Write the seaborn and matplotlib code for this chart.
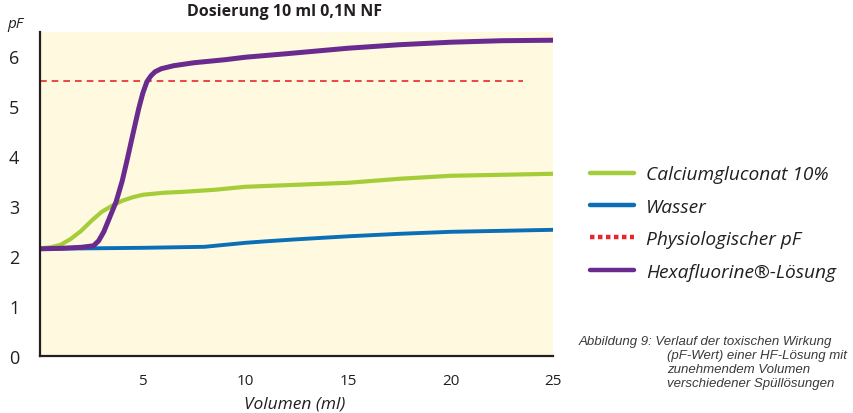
import matplotlib
matplotlib.use('Agg')
import matplotlib.pyplot as plt
import pandas as pd
import seaborn as sns
from matplotlib.lines import Line2D

# Values
volume_calcium = [0, 0.5, 1, 1.5, 2, 2.5, 3, 3.5, 4, 4.5, 5, 6, 7, 8.5, 10, 12.5, 15, 17.5, 20, 22.5, 25]
ph_calcium = [2.15, 2.17, 2.22, 2.34, 2.5, 2.7, 2.88, 3.0, 3.1, 3.17, 3.22, 3.26, 3.28, 3.32, 3.38,
              3.42, 3.46, 3.54, 3.6, 3.62, 3.64]

volume_water = [0, 5, 8, 9, 10, 11, 12.5, 15, 17.5, 20, 22.5, 25]
ph_water = [2.14, 2.16, 2.18, 2.22, 2.26, 2.29, 2.33, 2.39, 2.44, 2.48, 2.5, 2.52]

volume_hexa = [0, 1, 2, 2.6, 2.85, 3.1, 3.4, 3.7, 4.0, 4.25, 4.5, 4.8, 5.0, 5.2, 5.4, 5.6, 5.9,
               6.2, 6.5, 7.5, 9, 10, 12, 15, 17.5, 20, 22.5, 25]
ph_hexa = [2.14, 2.15, 2.17, 2.2, 2.3, 2.48, 2.78, 3.08, 3.5, 3.94, 4.4, 4.94, 5.25, 5.48, 5.6,
           5.68, 5.74, 5.77, 5.8, 5.86, 5.92, 5.97, 6.04, 6.15, 6.22, 6.27, 6.3, 6.31]

physio_x = [0, 23.5]
physio_pf = [5.5, 5.5]

x_ticks = [5, 10, 15, 20, 25]
y_ticks = [0, 1, 2, 3, 4, 5, 6]

labels = ['Calciumgluconat 10%', 'Wasser', 'Physiologischer pF', 'Hexafluorine®-Lösung']
colors = ['#A5CD39', '#0A6FB7', '#E9262B', '#6A2B8F']

df = pd.concat([
    pd.DataFrame({'vol': volume_calcium, 'pf': ph_calcium, 'serie': labels[0]}),
    pd.DataFrame({'vol': volume_water, 'pf': ph_water, 'serie': labels[1]}),
    pd.DataFrame({'vol': volume_hexa, 'pf': ph_hexa, 'serie': labels[3]}),
])

sns.set_style('white')
plt.rcParams['font.family'] = ['Open Sans', 'DejaVu Sans']

fig = plt.figure(figsize=(8.54, 4.14), dpi=100)
ax = fig.add_axes([0.047, 0.138, 0.601, 0.783])
ax.set_facecolor('#FFFADF')

widths = {labels[0]: 3.0, labels[1]: 2.8, labels[3]: 3.6}
for name in [labels[1], labels[0], labels[3]]:
    sub = df[df['serie'] == name]
    sns.lineplot(data=sub, x='vol', y='pf', ax=ax, color=colors[labels.index(name)],
                 lw=widths[name], solid_capstyle='round', solid_joinstyle='round',
                 legend=False, sort=False)

ax.plot(physio_x, physio_pf, color=colors[2], lw=1.2, linestyle=(0, (4, 3)), zorder=1)

ax.set_xlim(0, 25)
ax.set_ylim(0, 6.48)
ax.set_xticks(x_ticks)
ax.set_yticks(y_ticks)
ax.set_xlabel('')
ax.set_ylabel('')

for side in ['top', 'right']:
    ax.spines[side].set_visible(False)
for side in ['left', 'bottom']:
    ax.spines[side].set_color('#231F20')
    ax.spines[side].set_linewidth(1.6)

ax.tick_params(axis='y', direction='inout', length=12, width=1.2, color='#231F20',
               labelsize=13, pad=9, labelcolor='#231F20')
ax.tick_params(axis='x', direction='in', length=8, width=1.4, color='#231F20',
               labelsize=11, pad=12, labelcolor='#231F20')

fig.text(0.333, 0.971, 'Dosierung 10 ml 0,1N NF', ha='center', va='center',
         fontsize=11.5, fontweight='bold', color='#231F20')
fig.text(0.009, 0.94, 'pF', ha='left', va='center', fontsize=11,
         style='italic', color='#231F20')
fig.text(0.345, 0.022, 'Volumen (ml)', ha='center', va='center', fontsize=12.5,
         style='italic', color='#231F20')

handles = [
    Line2D([], [], color=colors[0], lw=3.2),
    Line2D([], [], color=colors[1], lw=3.2),
    Line2D([], [], color=colors[2], lw=3.2, linestyle=(0, (1, 0.8))),
    Line2D([], [], color=colors[3], lw=3.2),
]
leg = fig.legend(handles, labels, loc='upper left', bbox_to_anchor=(0.691, 0.598),
                 frameon=False, handlelength=2.3, handletextpad=0.6,
                 borderpad=0, borderaxespad=0,
                 labelspacing=0.75, prop={'style': 'italic', 'size': 13.8})
for t in leg.get_texts():
    t.set_color('#231F20')

caption = [
    ('Abbildung 9: Verlauf der toxischen Wirkung', 0.677),
    ('(pF-Wert) einer HF-Lösung mit', 0.781),
    ('zunehmendem Volumen', 0.781),
    ('verschiedener Spüllösungen', 0.781),
]
for i, (line, xpos) in enumerate(caption):
    fig.text(xpos, 0.174 - i * 0.034, line, ha='left', va='center', fontsize=9.5,
             style='italic', color='#3A3A3A', family=['Liberation Sans', 'DejaVu Sans'])

fig.savefig('out.png', dpi=100)
